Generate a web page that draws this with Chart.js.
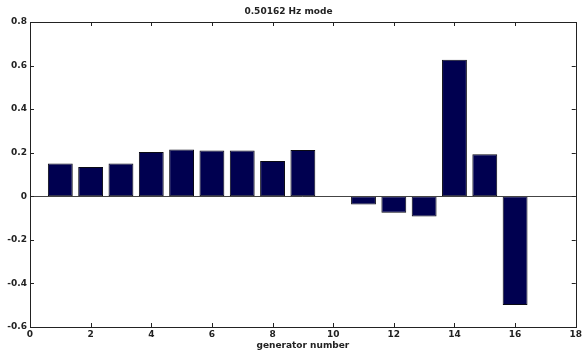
<!DOCTYPE html>
<html>
<head>
<meta charset="utf-8">
<script src="https://cdn.jsdelivr.net/npm/chart.js@4.4.0/dist/chart.umd.min.js"></script>
<style>
  html, body { margin: 0; padding: 0; background: #fff; }
  #wrap { width: 584px; height: 354px; }
</style>
</head>
<body>
<div id="wrap"><canvas id="modeChart" width="584" height="354"></canvas></div>
<script>
// Data
const generators = [1, 2, 3, 4, 5, 6, 7, 8, 9, 10, 11, 12, 13, 14, 15, 16];
const modeShape = [0.151, 0.134, 0.150, 0.203, 0.215, 0.210, 0.210, 0.162, 0.212, 0, -0.038, -0.075, -0.093, 0.627, 0.193, -0.499];

const xTicks = [0, 2, 4, 6, 8, 10, 12, 14, 16, 18];
const xTickLabels = ['0', '2', '4', '6', '8', '10', '12', '14', '16', '18'];
const yTicks = [-0.6, -0.4, -0.2, 0, 0.2, 0.4, 0.6, 0.8];
const yTickLabels = ['-0.6', '-0.4', '-0.2', '0', '0.2', '0.4', '0.6', '0.8'];

const axisColor = '#222';
const fontFamily = '"DejaVu Sans", Verdana, sans-serif';

// Box, inward tick marks and zero baseline, MATLAB style
const axesBox = {
    id: 'axesBox',
    afterDatasetsDraw(chart) {
        const ctx = chart.ctx;
        const { left, right, top, bottom } = chart.chartArea;
        const xs = chart.scales.x;
        const ys = chart.scales.y;
        const len = 4;
        ctx.save();
        ctx.lineWidth = 1;

        // zero baseline
        const y0 = Math.round(ys.getPixelForValue(0)) + 0.5;
        ctx.strokeStyle = '#444';
        ctx.beginPath();
        ctx.moveTo(left, y0);
        ctx.lineTo(right, y0);
        ctx.stroke();

        ctx.strokeStyle = axisColor;
        ctx.strokeRect(Math.round(left) + 0.5, Math.round(top) + 0.5,
            Math.round(right - left), Math.round(bottom - top));

        ctx.beginPath();
        xTicks.forEach(v => {
            const px = Math.round(xs.getPixelForValue(v)) + 0.5;
            ctx.moveTo(px, bottom);
            ctx.lineTo(px, bottom - len);
            ctx.moveTo(px, top);
            ctx.lineTo(px, top + len);
        });
        yTicks.forEach(v => {
            const py = Math.round(ys.getPixelForValue(v)) + 0.5;
            ctx.moveTo(left, py);
            ctx.lineTo(left + len, py);
            ctx.moveTo(right, py);
            ctx.lineTo(right - len, py);
        });
        ctx.stroke();
        ctx.restore();
    }
};

function initializeChart() {
    const ctx = document.getElementById('modeChart').getContext('2d');
    new Chart(ctx, {
        type: 'bar',
        data: {
            datasets: [{
                data: generators.map((g, i) => ({ x: g, y: modeShape[i] })),
                backgroundColor: '#000050',
                borderColor: '#0a0a14',
                borderWidth: 1,
                borderSkipped: false,
                barPercentage: 1,
                categoryPercentage: 0.82
            }]
        },
        options: {
            responsive: false,
            animation: false,
            layout: { padding: { left: 0, right: 7, top: 0, bottom: 0 } },
            plugins: {
                legend: { display: false },
                tooltip: { enabled: false },
                title: {
                    display: true,
                    text: '0.50162 Hz mode',
                    color: '#222',
                    font: { family: fontFamily, size: 9, weight: 'bold' },
                    padding: { top: 6, bottom: 5.2 }
                }
            },
            scales: {
                x: {
                    type: 'linear',
                    min: 0,
                    max: 18,
                    offset: false,
                    afterBuildTicks: scale => { scale.ticks = xTicks.map(v => ({ value: v })); },
                    afterFit: scale => { scale.height = 27; },
                    grid: { display: false, drawTicks: false },
                    border: { display: false },
                    ticks: {
                        color: '#222',
                        padding: 2,
                        maxRotation: 0,
                        autoSkip: false,
                        font: { family: fontFamily, size: 9, weight: 'bold' },
                        callback: (value, index) => xTickLabels[index]
                    },
                    title: {
                        display: true,
                        text: 'generator number',
                        color: '#222',
                        font: { family: fontFamily, size: 9, weight: 'bold' },
                        padding: { top: 0, bottom: 3 }
                    }
                },
                y: {
                    min: -0.6,
                    max: 0.8,
                    afterBuildTicks: scale => { scale.ticks = yTicks.map(v => ({ value: v })); },
                    afterFit: scale => { scale.width = 30; },
                    grid: { display: false, drawTicks: false },
                    border: { display: false },
                    ticks: {
                        color: '#222',
                        padding: 3,
                        autoSkip: false,
                        font: { family: fontFamily, size: 9, weight: 'bold' },
                        callback: (value, index) => yTickLabels[index]
                    }
                }
            }
        },
        plugins: [axesBox]
    });
}

document.addEventListener('DOMContentLoaded', initializeChart);
</script>
</body>
</html>
